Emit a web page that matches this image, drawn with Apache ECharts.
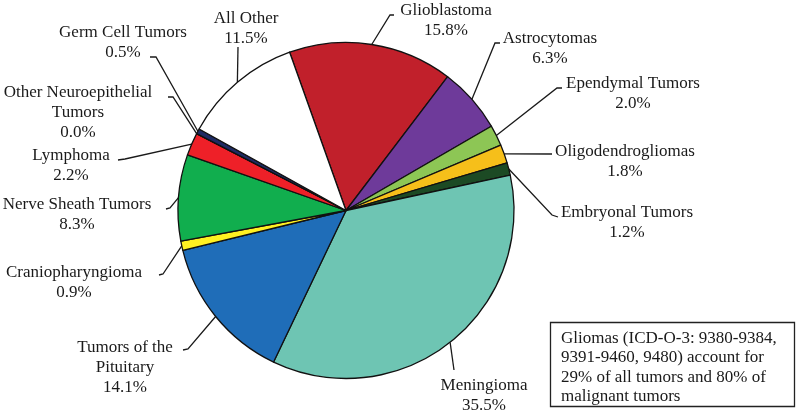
<!DOCTYPE html>
<html><head><meta charset="utf-8">
<script src="https://cdn.jsdelivr.net/npm/echarts@6/dist/echarts.min.js"></script>
<style>html,body{margin:0;padding:0;background:#fff}#c{width:797px;height:416px}</style>
</head><body><div id="c"></div>
<script>
const categories = ['Glioblastoma','Astrocytomas','Ependymal Tumors','Oligodendrogliomas','Embryonal Tumors','Meningioma','Tumors of the Pituitary','Craniopharyngioma','Nerve Sheath Tumors','Lymphoma','Other Neuroepithelial Tumors','Germ Cell Tumors','All Other'];
const percents = [15.8, 6.3, 2.0, 1.8, 1.2, 35.5, 14.1, 0.9, 8.3, 2.2, 0.0, 0.5, 11.5];
const colors = ['#C1202B','#6E3A9A','#8DC655','#F6BF1A','#1C4A24','#6EC5B3','#1F6DB8','#FFF122','#11AE4E','#EE2028','#888888','#1E2B63','#FFFFFF'];
const noteLines = ['Gliomas (ICD-O-3: 9380-9384,','9391-9460, 9480) account for','29% of all tumors and 80% of','malignant tumors'];

// label layout (pixels): [textCenterX, firstLineCenterY, elbowX, elbowY, endX, endY]
const labelPos = [
  [446, 10, 390, 15, 394, 15],
  [550, 38, 495, 43, 500, 43],
  [633, 83, 557, 88, 562, 88],
  [625, 151, 552, 154, 552, 154],
  [627, 212, 552, 215, 558, 217],
  [484, 385, 454, 370, 454, 370],
  [125, 347, 188, 349, 183, 350],
  [74, 272, 163, 274, 159, 275],
  [77, 204, 170, 208, 166, 209],
  [71, 155, 125, 159, 118, 160],
  [78, 92, 173, 97, 168, 97],
  [123, 32, 156, 57, 150, 57],
  [246, 18, 238, 47, 238, 47]
];
const CX = 346, CY = 210.5, R = 168, START = 109.6;

function breakName(n) {
  return n.replace('Neuroepithelial ', 'Neuroepithelial\n').replace('of the ', 'of the\n');
}
function edgePoint(i) {
  const total = percents.reduce((a, b) => a + b, 0);
  let cum = 0;
  for (let k = 0; k < i; k++) cum += percents[k];
  const mid = (cum + percents[i] / 2) / total * 360;
  const a = (START - mid) * Math.PI / 180;
  return [CX + R * Math.cos(a), CY - R * Math.sin(a)];
}

const chart = echarts.init(document.getElementById('c'), null, {renderer: 'canvas'});
chart.setOption({
  animation: false,
  backgroundColor: '#ffffff',
  series: [{
    type: 'pie',
    center: [CX, CY],
    radius: R,
    startAngle: START,
    clockwise: true,
    avoidLabelOverlap: false,
    minShowLabelAngle: -1,
    emphasis: {disabled: true},
    silent: true,
    data: categories.map((c, i) => ({name: c, value: percents[i], itemStyle: {color: colors[i]}})),
    itemStyle: {borderColor: '#111', borderWidth: 1.3},
    label: {
      show: true,
      position: 'outside',
      formatter: p => breakName(p.name) + '\n' + p.value.toFixed(1) + '%',
      fontFamily: 'Liberation Serif',
      fontSize: 17,
      lineHeight: 20,
      color: '#1a1a1a',
      align: 'center'
    },
    labelLine: {show: true, lineStyle: {color: '#1a1a1a', width: 1.3}},
    labelLayout: function (p) {
      const L = labelPos[p.dataIndex];
      const e = (p.labelLinePoints && p.labelLinePoints[0]) ? p.labelLinePoints[0] : edgePoint(p.dataIndex);
      return {
        x: L[0], y: L[1] - 9, align: 'center', verticalAlign: 'top',
        labelLinePoints: [[e[0], e[1]], [L[2], L[3]], [L[4], L[5]]]
      };
    }
  }],
  graphic: [{
    type: 'group',
    children: [
      {type: 'rect', shape: {x: 550.5, y: 322.5, width: 244, height: 84}, style: {fill: '#fff', stroke: '#222', lineWidth: 1.3}},
      {type: 'text', x: 561, y: 328.5, style: {text: noteLines.join('\n'), fontFamily: 'Liberation Serif', fontSize: 17, lineHeight: 19.5, fill: '#1a1a1a', textVerticalAlign: 'top'}}
    ]
  }]
});
</script>
</body></html>
